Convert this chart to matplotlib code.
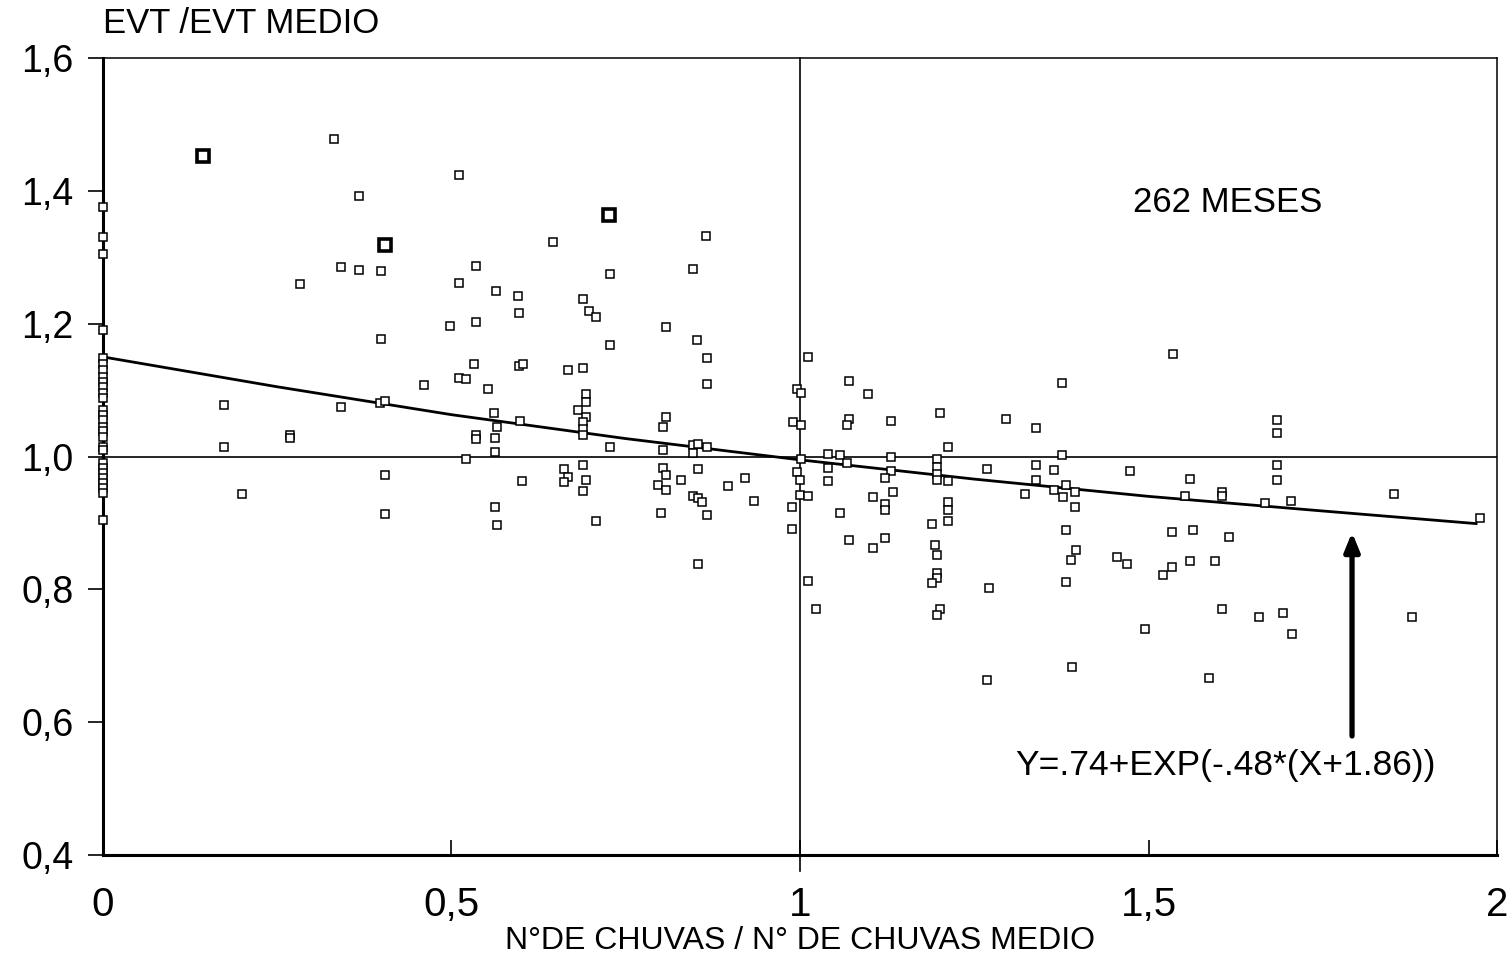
import matplotlib
matplotlib.use("Agg")
import matplotlib.pyplot as plt

plt.rcParams['font.family'] = ['Liberation Sans', 'DejaVu Sans']

# points sitting on x = 0
zero_y = [1.375, 1.33, 1.305, 1.19, 1.148, 1.14, 1.13, 1.12, 1.112, 1.105, 1.095,
          1.088, 1.07, 1.063, 1.055, 1.045, 1.038, 1.03, 1.015, 1.01, 0.99, 0.982,
          0.975, 0.968, 0.96, 0.952, 0.945, 0.905]

pts_x = [0.331, 0.511, 0.368, 0.341, 0.368, 0.399, 0.535, 0.283, 0.511, 0.564, 0.498,
         0.535, 0.399, 0.533, 0.461, 0.511, 0.521, 0.553, 0.174, 0.342, 0.397, 0.405,
         0.561, 0.565, 0.268, 0.268, 0.535, 0.535, 0.562, 0.562, 0.174, 0.521, 0.405,
         0.200, 0.405, 0.562, 0.565,
         0.645, 0.847, 0.727, 0.596, 0.689, 0.697, 0.707, 0.597, 0.808, 0.852, 0.727,
         0.866, 0.597, 0.602, 0.667, 0.688, 0.866, 0.693, 0.693, 0.682, 0.693, 0.688,
         0.688, 0.688, 0.598, 0.808, 0.803, 0.727, 0.803, 0.847, 0.853, 0.867, 0.847,
         0.662, 0.688, 0.803, 0.808, 0.853, 0.921, 0.667, 0.662, 0.693, 0.601, 0.829,
         0.897, 0.796, 0.808, 0.688, 0.934, 0.847, 0.854, 0.859, 0.988, 0.867, 0.801,
         0.707, 0.988, 0.853, 0.865,
         1.012, 1.535, 1.071, 1.376, 0.996, 1.001, 1.097, 1.201, 0.990, 1.001, 1.070,
         1.067, 1.131, 1.295, 1.338, 1.213, 1.040, 1.057, 1.131, 1.376, 1.001, 1.067,
         1.197, 1.197, 1.196, 1.196, 1.213, 1.040, 1.268, 1.338, 1.364, 1.473, 1.130,
         1.122, 0.996, 1.000, 1.040, 1.339, 1.381, 1.364, 1.377, 1.395, 1.134, 1.323,
         1.000, 1.012, 1.105, 1.212, 1.212, 1.122, 1.122, 1.395, 1.057, 1.212, 1.190,
         1.381, 1.534, 1.070, 1.122, 1.105, 1.396, 1.389, 1.194, 1.196, 1.455, 1.469,
         1.521, 1.534, 1.196, 1.197, 1.190, 1.381, 1.012, 1.271, 1.023, 1.201, 1.197,
         1.495, 1.390, 1.268,
         1.685, 1.685, 1.685, 1.685, 1.560, 1.553, 1.606, 1.606, 1.667, 1.705, 1.852,
         1.976, 1.564, 1.616, 1.560, 1.595, 1.606, 1.658, 1.693, 1.706, 1.878, 1.587]
pts_y = [1.478, 1.424, 1.392, 1.286, 1.281, 1.280, 1.287, 1.260, 1.262, 1.249, 1.196,
         1.202, 1.177, 1.140, 1.107, 1.118, 1.116, 1.101, 1.078, 1.075, 1.081, 1.084,
         1.066, 1.044, 1.033, 1.028, 1.032, 1.026, 1.028, 1.007, 1.015, 0.997, 0.972,
         0.943, 0.913, 0.924, 0.897,
         1.323, 1.282, 1.275, 1.242, 1.237, 1.219, 1.210, 1.216, 1.195, 1.175, 1.168,
         1.149, 1.137, 1.140, 1.130, 1.134, 1.109, 1.094, 1.082, 1.070, 1.060, 1.052,
         1.041, 1.033, 1.053, 1.060, 1.044, 1.014, 1.010, 1.017, 1.019, 1.015, 1.006,
         0.981, 0.987, 0.982, 0.972, 0.981, 0.968, 0.969, 0.961, 0.964, 0.963, 0.964,
         0.956, 0.957, 0.949, 0.948, 0.933, 0.940, 0.938, 0.931, 0.924, 0.912, 0.915,
         0.903, 0.891, 0.838, 1.332,
         1.150, 1.154, 1.113, 1.110, 1.101, 1.096, 1.094, 1.066, 1.052, 1.047, 1.057,
         1.047, 1.054, 1.056, 1.043, 1.014, 1.004, 1.002, 0.999, 1.002, 0.997, 0.990,
         0.996, 0.984, 0.974, 0.964, 0.963, 0.982, 0.981, 0.987, 0.980, 0.978, 0.978,
         0.968, 0.976, 0.964, 0.963, 0.964, 0.957, 0.949, 0.939, 0.946, 0.947, 0.943,
         0.942, 0.941, 0.939, 0.931, 0.920, 0.929, 0.919, 0.924, 0.915, 0.903, 0.899,
         0.889, 0.886, 0.874, 0.878, 0.862, 0.859, 0.844, 0.867, 0.852, 0.849, 0.838,
         0.822, 0.833, 0.824, 0.817, 0.810, 0.811, 0.813, 0.802, 0.771, 0.771, 0.761,
         0.740, 0.683, 0.664,
         1.055, 1.035, 0.987, 0.964, 0.966, 0.941, 0.947, 0.940, 0.930, 0.933, 0.943,
         0.907, 0.890, 0.879, 0.842, 0.843, 0.771, 0.758, 0.764, 0.733, 0.758, 0.667]

# heavier markers
bold_x = [0.143, 0.405, 0.726]
bold_y = [1.453, 1.319, 1.364]

# fitted curve
fit_x = [0.0, 0.25, 0.5, 0.75, 1.0, 1.25, 1.5, 1.75, 1.97]
fit_y = [1.150, 1.105, 1.063, 1.027, 0.995, 0.966, 0.940, 0.918, 0.899]

x_ticks = [0, 0.5, 1, 1.5, 2]
x_labels = ['0', '0,5', '1', '1,5', '2']
y_ticks = [0.4, 0.6, 0.8, 1.0, 1.2, 1.4, 1.6]
y_labels = ['0,4', '0,6', '0,8', '1,0', '1,2', '1,4', '1,6']

fig = plt.figure(figsize=(15.1, 9.61), dpi=100)
ax = fig.add_axes([0.0682, 0.1103, 0.9232, 0.8293])

ax.axhline(1.0, color='black', lw=1.2, zorder=2)
ax.axvline(1.0, ymin=-0.02, ymax=1, color='black', lw=1.2, zorder=2, clip_on=False)

ax.plot(fit_x, fit_y, color='black', lw=2.0, zorder=3)

ax.plot([0] * len(zero_y), zero_y, 's', ms=6, mfc='white', mec='black', mew=1.1,
        zorder=4, clip_on=False)
ax.plot(pts_x, pts_y, 's', ms=6, mfc='white', mec='black', mew=1.1, zorder=4)
ax.plot(bold_x, bold_y, 's', ms=8, mfc='white', mec='black', mew=2.6, zorder=5)

ax.annotate('', xy=(1.792, 0.89), xytext=(1.792, 0.575),
            arrowprops=dict(arrowstyle='-|>,head_width=0.45,head_length=1.1',
                            color='black', lw=3.8))

ax.text(1.613, 1.383, '262 MESES', fontsize=25, ha='center', va='center')
ax.text(1.611, 0.535, 'Y=.74+EXP(-.48*(X+1.86))', fontsize=25.5, ha='center', va='center')

ax.set_xlim(0, 2)
ax.set_ylim(0.4, 1.6)
ax.set_xticks(x_ticks)
ax.set_xticklabels(x_labels, fontsize=29)
ax.set_yticks(y_ticks)
ax.set_yticklabels(y_labels, fontsize=27)
ax.tick_params(axis='x', direction='in', length=11, width=1.2, pad=22)
ax.tick_params(axis='y', direction='out', length=11, width=1.2, pad=10)

for side in ['left', 'bottom']:
    ax.spines[side].set_linewidth(2.2)
for side in ['top', 'right']:
    ax.spines[side].set_linewidth(1.1)

fig.text(0.5295, 0.0205, 'N°DE CHUVAS / N° DE CHUVAS MEDIO', fontsize=23,
         ha='center', va='center')
fig.text(0.068, 0.9755, 'EVT /EVT MEDIO', fontsize=25, ha='left', va='center')

fig.savefig('out.png', dpi=100)
